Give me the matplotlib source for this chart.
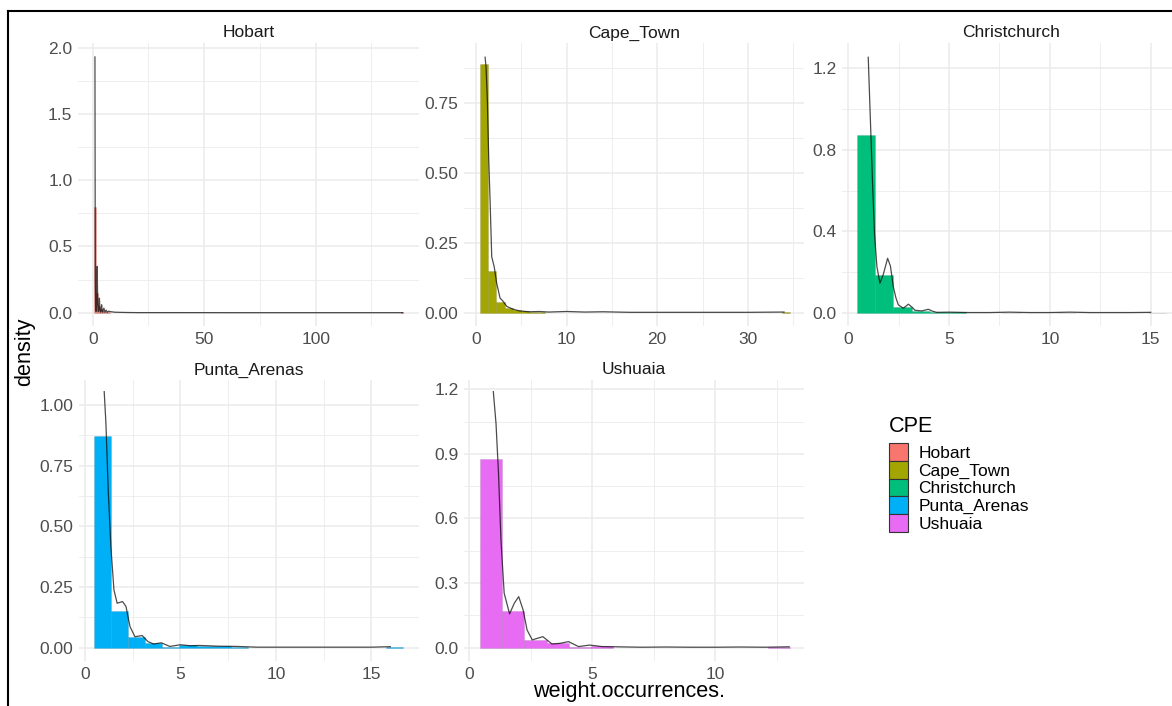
import numpy as np
import matplotlib
matplotlib.use("Agg")
import matplotlib.pyplot as plt
from matplotlib.patches import Patch
from matplotlib.lines import Line2D

plt.rcParams['font.family'] = ['Liberation Sans', 'DejaVu Sans']

cities = ["Hobart", "Cape_Town", "Christchurch", "Punta_Arenas", "Ushuaia"]
fills = ["#F8766D", "#A3A500", "#00BF7D", "#00B0F6", "#E76BF3"]
bin_width = 0.9

# histogram bins (left edge) and density heights, only non-empty bins
hobart_bins = [0.45, 1.35, 2.25, 3.15, 4.05, 4.95, 5.85, 6.75, 138.15]
hobart_hist = [0.80, 0.15, 0.05, 0.025, 0.012, 0.008, 0.005, 0.003, 0.002]
cape_bins = [0.45, 1.35, 2.25, 3.15, 4.05, 4.95, 5.85, 6.75, 33.75]
cape_hist = [0.89, 0.150, 0.039, 0.016, 0.008, 0.007, 0.002, 0.001, 0.001]
christ_bins = [0.45, 1.35, 2.25, 3.15, 4.05, 4.95, 7.65, 10.35, 14.85]
christ_hist = [0.873, 0.186, 0.031, 0.012, 0.004, 0.003, 0.002, 0.002, 0.002]
punta_bins = [0.45, 1.35, 2.25, 3.15, 4.05, 4.95, 5.85, 6.75, 7.65, 15.75]
punta_hist = [0.873, 0.152, 0.043, 0.018, 0.003, 0.011, 0.007, 0.005, 0.003, 0.002]
ushuaia_bins = [0.45, 1.35, 2.25, 3.15, 4.05, 4.95, 12.15]
ushuaia_hist = [0.876, 0.172, 0.036, 0.020, 0.002, 0.008, 0.001]

# kernel density curves
hobart_dx = [1.0, 1.15, 1.3, 1.5, 1.75, 2.0, 2.25, 2.5, 2.75, 3.0, 3.25, 3.5, 3.75,
             4.0, 4.25, 4.5, 5.0, 5.5, 6.0, 6.5, 7.0, 8.0, 10.0, 15.0, 20.0, 40.0,
             60.0, 80.0, 100.0, 120.0, 139.0]
hobart_dy = [1.93, 0.25, 0.02, 0.01, 0.08, 0.35, 0.06, 0.01, 0.03, 0.11, 0.02, 0.005, 0.02,
             0.06, 0.01, 0.005, 0.035, 0.004, 0.02, 0.003, 0.012, 0.008, 0.004, 0.002, 0.001, 0.001,
             0.0005, 0.0005, 0.0005, 0.0005, 0.0005]
cape_dx = [1.0, 1.1, 1.25, 1.4, 1.55, 1.73, 2.0, 2.28, 2.65, 3.0, 3.4, 4.1, 4.8, 5.9,
           7.0, 8.0, 10.0, 12.0, 14.0, 17.0, 20.0, 25.0, 30.0, 34.0]
cape_dy = [0.915, 0.88, 0.76, 0.55, 0.40, 0.20, 0.165, 0.105, 0.052, 0.040, 0.022, 0.012,
           0.006, 0.003, 0.004, 0.002, 0.004, 0.002, 0.003, 0.001, 0.001, 0.001, 0.001, 0.002]
christ_dx = [1.0, 1.13, 1.22, 1.31, 1.43, 1.58, 1.75, 1.96, 2.1, 2.24, 2.37, 2.49, 2.74,
             2.99, 3.15, 3.32, 3.65, 3.98, 4.2, 4.4, 5.0, 6.0, 7.0, 8.0, 9.0, 10.0, 11.0,
             12.0, 13.0, 14.0, 15.0]
christ_dy = [1.254, 0.88, 0.62, 0.39, 0.227, 0.146, 0.19, 0.268, 0.23, 0.13, 0.075, 0.04,
             0.023, 0.043, 0.03, 0.013, 0.01, 0.018, 0.008, 0.003, 0.004, 0.002, 0.002, 0.004,
             0.002, 0.002, 0.004, 0.002, 0.002, 0.002, 0.003]
punta_dx = [1.01, 1.1, 1.22, 1.36, 1.52, 1.69, 1.97, 2.15, 2.36, 2.62, 3.0, 3.3, 3.6, 4.0,
            4.45, 5.0, 5.5, 6.0, 7.0, 8.0, 9.0, 10.0, 12.0, 14.0, 15.0, 16.0]
punta_dy = [1.055, 0.925, 0.65, 0.416, 0.238, 0.183, 0.19, 0.17, 0.087, 0.045, 0.05, 0.025,
            0.015, 0.02, 0.005, 0.012, 0.008, 0.009, 0.006, 0.005, 0.002, 0.002, 0.002, 0.002,
            0.002, 0.004]
ushuaia_dx = [0.99, 1.1, 1.2, 1.3, 1.43, 1.65, 1.84, 2.02, 2.2, 2.36, 2.57, 2.77, 3.0, 3.37,
              3.7, 4.04, 4.45, 4.9, 5.4, 6.0, 7.0, 8.0, 9.0, 10.0, 11.0, 12.0, 13.0]
ushuaia_dy = [1.189, 1.04, 0.81, 0.50, 0.253, 0.157, 0.206, 0.237, 0.175, 0.082, 0.036, 0.043,
              0.051, 0.017, 0.02, 0.028, 0.005, 0.012, 0.005, 0.004, 0.002, 0.003, 0.002, 0.002,
              0.003, 0.002, 0.004]

panels = {
    "Hobart": dict(bins=hobart_bins, hist=hobart_hist, dx=hobart_dx, dy=hobart_dy,
                   box=(78, 43, 419, 326), xlim=(-6.6, 146.3), ylim=(-0.10, 2.035),
                   xt=[0, 50, 100], xm=[25, 75, 125], yt=[0, 0.5, 1.0, 1.5, 2.0],
                   ym=[0.25, 0.75, 1.25, 1.75], yfmt="{:.1f}"),
    "Cape_Town": dict(bins=cape_bins, hist=cape_hist, dx=cape_dx, dy=cape_dy,
                      box=(464, 43, 804, 326), xlim=(-1.33, 36.2), ylim=(-0.048, 0.966),
                      xt=[0, 10, 20, 30], xm=[5, 15, 25, 35], yt=[0, 0.25, 0.5, 0.75],
                      ym=[0.125, 0.375, 0.625, 0.875], yfmt="{:.2f}"),
    "Christchurch": dict(bins=christ_bins, hist=christ_hist, dx=christ_dx, dy=christ_dy,
                         box=(842, 43, 1181, 326), xlim=(-0.3, 16.5), ylim=(-0.064, 1.324),
                         xt=[0, 5, 10, 15], xm=[2.5, 7.5, 12.5], yt=[0, 0.4, 0.8, 1.2],
                         ym=[0.2, 0.6, 1.0], yfmt="{:.1f}"),
    "Punta_Arenas": dict(bins=punta_bins, hist=punta_hist, dx=punta_dx, dy=punta_dy,
                         box=(79, 380, 419, 661), xlim=(-0.31, 17.5), ylim=(-0.055, 1.103),
                         xt=[0, 5, 10, 15], xm=[2.5, 7.5, 12.5, 17.5],
                         yt=[0, 0.25, 0.5, 0.75, 1.0], ym=[0.125, 0.375, 0.625, 0.875],
                         yfmt="{:.2f}"),
    "Ushuaia": dict(bins=ushuaia_bins, hist=ushuaia_hist, dx=ushuaia_dx, dy=ushuaia_dy,
                    box=(464, 380, 804, 661), xlim=(-0.2, 13.6), ylim=(-0.062, 1.243),
                    xt=[0, 5, 10], xm=[2.5, 7.5, 12.5], yt=[0, 0.3, 0.6, 0.9, 1.2],
                    ym=[0.15, 0.45, 0.75, 1.05], yfmt="{:.1f}"),
}

W, H = 1172, 706
fig = plt.figure(figsize=(W / 100, H / 100), dpi=100)
tick_size = 12.5
title_size = 15.6

for city, col in zip(cities, fills):
    p = panels[city]
    l, t, r, b = p["box"]
    ax = fig.add_axes([l / W, 1 - b / H, (r - l) / W, (b - t) / H])
    ax.bar(p["bins"], p["hist"], width=bin_width, align="edge", color=col,
           edgecolor=(0, 0, 0, 0.15), linewidth=0.4, zorder=2)
    ax.plot(p["dx"], p["dy"], color="black", alpha=0.7, lw=0.9, zorder=3)
    ax.set_xlim(*p["xlim"])
    ax.set_ylim(*p["ylim"])
    ax.set_xticks(p["xt"])
    ax.set_xticklabels([str(v) for v in p["xt"]])
    ax.set_xticks(p["xm"], minor=True)
    ax.set_yticks(p["yt"])
    ax.set_yticklabels([p["yfmt"].format(v) for v in p["yt"]])
    ax.set_yticks(p["ym"], minor=True)
    ax.grid(which="major", color="#EBEBEB", lw=1.1)
    ax.grid(which="minor", color="#EBEBEB", lw=0.6)
    ax.set_axisbelow(True)
    for s in ax.spines.values():
        s.set_visible(False)
    ax.tick_params(which="both", length=0, labelsize=tick_size, labelcolor="#4D4D4D", pad=4)
    ax.set_title(city, fontsize=tick_size, color="#1A1A1A", pad=4)

fig.text(25 / W, 1 - 352 / H, "density", rotation=90, ha="center", va="center",
         fontsize=title_size)
fig.text(629.5 / W, 1 - 697 / H, "weight.occurrences.", ha="center", va="baseline",
         fontsize=title_size)

# legend: title placed on its own, keys stacked without gaps
fig.text(889 / W, 1 - 432 / H, "CPE", ha="left", va="baseline", fontsize=title_size)
handles = [Patch(facecolor=c, edgecolor="#333333", linewidth=0.8) for c in fills]
leg = fig.legend(handles, cities, loc="upper left", bbox_to_anchor=(889 / W, 1 - 443 / H),
                 frameon=False, fontsize=tick_size, handlelength=1.08, handleheight=1.2,
                 labelspacing=0.0, handletextpad=0.62, borderaxespad=0, borderpad=0)

# outer frame on the left and top
fig.add_artist(Line2D([8 / W, 8 / W], [0, 1 - 11 / H], color="black", lw=1.5))
fig.add_artist(Line2D([8 / W, 1], [1 - 11 / H, 1 - 11 / H], color="black", lw=1.5))

fig.savefig("out.png", dpi=100)
